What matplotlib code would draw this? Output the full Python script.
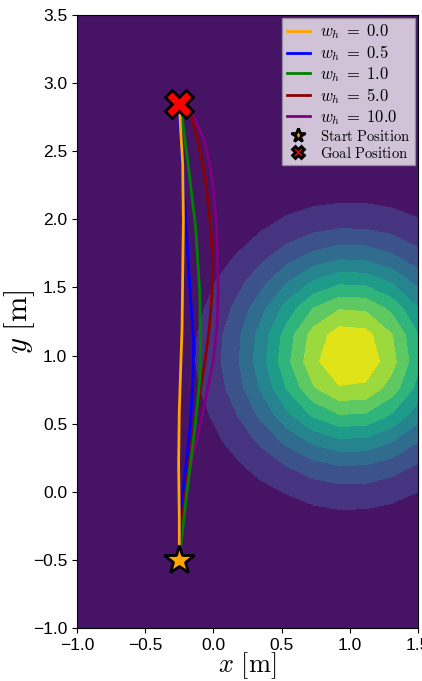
import numpy as np
import matplotlib
matplotlib.use("Agg")
import matplotlib.pyplot as plt

plt.rcParams['mathtext.fontset'] = 'cm'
plt.rcParams['font.family'] = ['Liberation Sans', 'DejaVu Sans']

# ---- data ----
# obstacle / cost field (Gaussian bump)
cost_center = (1.0, 1.0)
cost_sigma = 0.52
cost_peak = 1.0
grid_x = np.linspace(-1.0, 1.5, 14)
grid_y = np.linspace(-1.0, 3.5, 24)
levels = np.linspace(0.0, 1.0, 11)

start = (-0.25, -0.5)
goal = (-0.25, 2.85)

weights = ["0.0", "0.5", "1.0", "5.0", "10.0"]
colors = ["orange", "blue", "green", "darkred", "purple"]

traj_w0_x = [-0.25, -0.25, -0.255, -0.25, -0.24, -0.23, -0.225, -0.22, -0.225, -0.24, -0.25]
traj_w0_y = [-0.5, -0.2, 0.2, 0.6, 0.9, 1.2, 1.6, 2.0, 2.4, 2.65, 2.85]

traj_w05_x = [-0.25, -0.24, -0.2, -0.17, -0.15, -0.145, -0.17, -0.2, -0.23, -0.25, -0.25]
traj_w05_y = [-0.5, -0.13, 0.2, 0.48, 0.82, 1.1, 1.46, 1.94, 2.44, 2.75, 2.85]

traj_w1_x = [-0.25, -0.195, -0.135, -0.10, -0.095, -0.10, -0.13, -0.19, -0.23, -0.25]
traj_w1_y = [-0.5, -0.01, 0.475, 0.82, 1.1, 1.46, 1.94, 2.44, 2.75, 2.85]

traj_w5_x = [-0.25, -0.21, -0.16, -0.10, -0.06, -0.03, -0.01, -0.005, -0.02, -0.06, -0.11, -0.16, -0.25]
traj_w5_y = [-0.5, -0.01, 0.36, 0.72, 0.97, 1.2, 1.46, 1.7, 1.94, 2.31, 2.56, 2.75, 2.85]

traj_w10_x = [-0.25, -0.22, -0.16, -0.10, -0.05, 0.0, 0.025, 0.035, 0.03, 0.025, -0.01, -0.06, -0.14, -0.25]
traj_w10_y = [-0.5, -0.13, 0.23, 0.475, 0.72, 0.97, 1.2, 1.46, 1.7, 1.94, 2.31, 2.56, 2.75, 2.85]

trajs = [(traj_w0_x, traj_w0_y), (traj_w05_x, traj_w05_y), (traj_w1_x, traj_w1_y),
         (traj_w5_x, traj_w5_y), (traj_w10_x, traj_w10_y)]

xticks = [-1.0, -0.5, 0.0, 0.5, 1.0, 1.5]
yticks = [-1.0, -0.5, 0.0, 0.5, 1.0, 1.5, 2.0, 2.5, 3.0, 3.5]

# ---- figure ----
fig = plt.figure(figsize=(4.22, 6.81), dpi=100)
ax = fig.add_axes([77 / 422, 53 / 681, 341 / 422, 613 / 681])

X, Y = np.meshgrid(grid_x, grid_y)
Z = cost_peak * np.exp(-((X - cost_center[0]) ** 2 + (Y - cost_center[1]) ** 2) / (2 * cost_sigma ** 2))
ax.contourf(X, Y, Z, levels=levels, cmap='viridis', zorder=0)

handles = []
n = len(trajs)
for i, ((tx, ty), w, c) in enumerate(zip(trajs, weights, colors)):
    ln, = ax.plot(tx, ty, color=c, lw=2, zorder=2 + (n - i) * 0.1,
                  label=r'$w_h\;=\;%s$' % w)
    handles.append(ln)

st, = ax.plot([start[0]], [start[1]], marker='*', ms=22, mfc='orange', mec='black',
              mew=2, ls='none', zorder=5, label=r'$\mathrm{Start\ Position}$')
gl, = ax.plot([goal[0]], [goal[1]], marker='X', ms=20, mfc='red', mec='black',
              mew=2, ls='none', zorder=5, label=r'$\mathrm{Goal\ Position}$')
handles += [st, gl]

ax.set_xlim(-1.0, 1.5)
ax.set_ylim(-1.0, 3.5)
ax.set_xticks(xticks)
ax.set_yticks(yticks)
ax.tick_params(labelsize=12.5)
ax.set_xlabel(r'$x\ [\mathrm{m}]$', fontsize=19, labelpad=-1.5)
ax.set_ylabel(r'$y\ [\mathrm{m}]$', fontsize=22, labelpad=-3)

leg = ax.legend(handles=handles, loc='upper right', fontsize=12, markerscale=0.45,
                fancybox=False, framealpha=0.75, edgecolor='0.6',
                labelspacing=0.12, handlelength=1.4, borderpad=0.25,
                handletextpad=0.6, borderaxespad=0.2)
for t in leg.get_texts()[5:]:
    t.set_fontsize(10.5)

fig.savefig("out.png", dpi=100)
